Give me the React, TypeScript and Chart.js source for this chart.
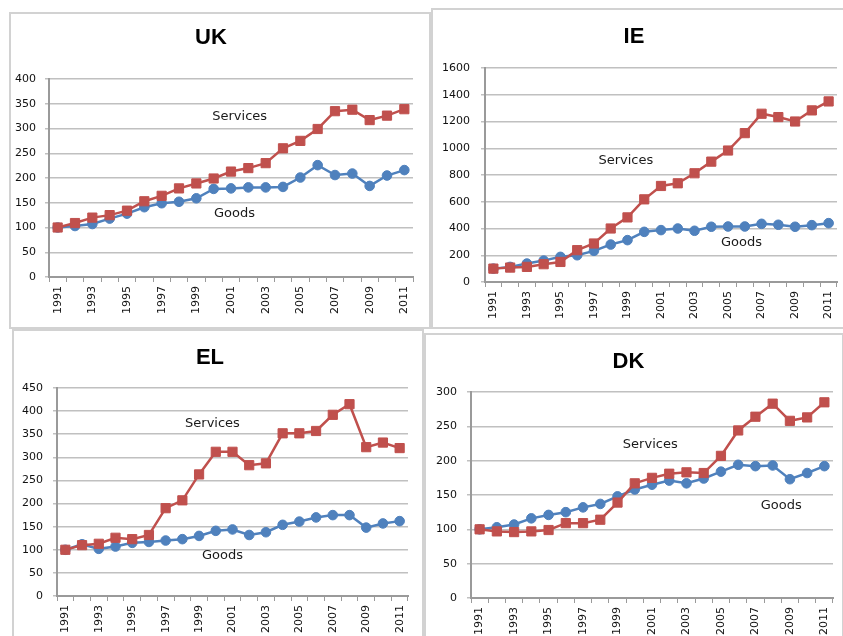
import React, { useEffect, useRef } from 'react';
import { Chart, registerables } from 'chart.js';

Chart.register(...registerables);

const years = ['1991', '1992', '1993', '1994', '1995', '1996', '1997', '1998', '1999', '2000', '2001', '2002', '2003', '2004', '2005', '2006', '2007', '2008', '2009', '2010', '2011'];

const ukServices = [100, 109, 120, 125, 134, 153, 164, 179, 189, 199, 213, 220, 230, 260, 275, 299, 335, 338, 317, 326, 339];
const ukGoods = [100, 103, 107, 118, 128, 141, 149, 152, 159, 178, 179, 181, 181, 182, 201, 226, 206, 209, 184, 205, 216];

const ieServices = [100, 108, 113, 133, 150, 238, 288, 400, 483, 618, 718, 738, 813, 900, 983, 1113, 1258, 1233, 1200, 1283, 1350];
const ieGoods = [100, 113, 138, 160, 188, 200, 233, 280, 313, 375, 388, 400, 383, 413, 415, 415, 435, 428, 413, 425, 440];

const elServices = [100, 110, 113, 126, 123, 132, 190, 207, 263, 312, 312, 283, 287, 352, 352, 357, 392, 415, 322, 332, 320];
const elGoods = [100, 112, 102, 107, 115, 117, 120, 123, 130, 141, 144, 132, 138, 154, 161, 170, 175, 175, 148, 157, 162];

const dkServices = [100, 97, 96, 97, 99, 109, 109, 114, 139, 167, 175, 181, 183, 182, 207, 244, 264, 283, 258, 263, 285];
const dkGoods = [100, 103, 107, 116, 121, 125, 132, 137, 148, 158, 165, 171, 167, 174, 184, 194, 192, 193, 173, 182, 192];

const seriesNames = ['Services', 'Goods'];

const RED = '#C0504D';
const BLUE = '#4F81BD';

type Note = { text: string; x: number; y: number };
type Box = { l: number; t: number; w: number; h: number };
type Plot = { l: number; t: number; r: number; b: number };
type PanelCfg = {
  title: string;
  services: number[];
  goods: number[];
  yMax: number;
  yStep: number;
  box: Box;
  plot: Plot;
  titleY: number;
  yPad: number;
  notes: Note[];
};

const panels: PanelCfg[] = [
  {
    title: 'UK', services: ukServices, goods: ukGoods, yMax: 400, yStep: 50,
    box: { l: 9, t: 12, w: 422, h: 317 }, plot: { l: 49, t: 79, r: 413, b: 277 }, titleY: 38, yPad: 9,
    notes: [{ text: 'Services', x: 10.5, y: 323 }, { text: 'Goods', x: 10.2, y: 129 }],
  },
  {
    title: 'IE', services: ieServices, goods: ieGoods, yMax: 1600, yStep: 200,
    box: { l: 431, t: 8, w: 420, h: 321 }, plot: { l: 485, t: 68, r: 837, b: 282 }, titleY: 37, yPad: 11,
    notes: [{ text: 'Services', x: 7.9, y: 905 }, { text: 'Goods', x: 14.8, y: 292 }],
  },
  {
    title: 'EL', services: elServices, goods: elGoods, yMax: 450, yStep: 50,
    box: { l: 12, t: 329, w: 412, h: 320 }, plot: { l: 57, t: 388, r: 408, b: 596 }, titleY: 358, yPad: 10,
    notes: [{ text: 'Services', x: 8.8, y: 374 }, { text: 'Goods', x: 9.4, y: 87 }],
  },
  {
    title: 'DK', services: dkServices, goods: dkGoods, yMax: 300, yStep: 50,
    box: { l: 424, t: 333, w: 420, h: 320 }, plot: { l: 471, t: 392, r: 833, b: 598 }, titleY: 362, yPad: 10,
    notes: [{ text: 'Services', x: 9.9, y: 224 }, { text: 'Goods', x: 17.5, y: 135 }],
  },
];

const notesPlugin = {
  id: 'notes',
  afterDatasetsDraw(chart: any, _args: any, opts: any) {
    const items: Note[] = (opts && opts.items) || [];
    const { ctx } = chart;
    const xs = chart.scales.x;
    const ys = chart.scales.y;
    ctx.save();
    ctx.font = '13px "DejaVu Sans"';
    ctx.fillStyle = '#1a1a1a';
    ctx.textAlign = 'center';
    ctx.textBaseline = 'middle';
    for (const it of items) {
      ctx.fillText(it.text, xs.getPixelForValue(it.x), ys.getPixelForValue(it.y));
    }
    ctx.restore();
  },
};

const TITLE_SIZE = 22;
const TITLE_LH = TITLE_SIZE * 1.2;

function Panel({ cfg }: { cfg: PanelCfg }) {
  const ref = useRef<HTMLCanvasElement | null>(null);
  useEffect(() => {
    if (!ref.current) return;
    const { box, plot } = cfg;
    const yWidth = plot.l - box.l;
    const padRight = box.l + box.w - plot.r;
    const xHeight = box.t + box.h - plot.b;
    const titleCenter = cfg.titleY - box.t;
    const tPadTop = titleCenter - TITLE_LH / 2;
    const tPadBottom = plot.t - box.t - tPadTop - TITLE_LH;

    const chart = new Chart(ref.current, {
      type: 'line',
      data: {
        labels: years,
        datasets: [
          {
            label: seriesNames[0],
            data: cfg.services,
            borderColor: RED,
            backgroundColor: RED,
            borderWidth: 2.5,
            pointStyle: 'rect',
            pointRadius: 6.5,
            pointBorderWidth: 1,
            pointBorderColor: RED,
            pointBackgroundColor: RED,
            tension: 0,
          },
          {
            label: seriesNames[1],
            data: cfg.goods,
            borderColor: BLUE,
            backgroundColor: BLUE,
            borderWidth: 2.5,
            pointStyle: 'circle',
            pointRadius: 4.8,
            pointBorderWidth: 1,
            pointBorderColor: BLUE,
            pointBackgroundColor: BLUE,
            tension: 0,
          },
        ],
      },
      options: {
        animation: false,
        responsive: false,
        maintainAspectRatio: false,
        devicePixelRatio: 1,
        layout: { padding: { left: 0, right: padRight, top: 0, bottom: 0 } },
        plugins: {
          legend: { display: false },
          tooltip: { enabled: false },
          title: {
            display: true,
            text: cfg.title,
            color: '#000',
            font: { family: '"Liberation Sans", Arial, sans-serif', size: TITLE_SIZE, weight: 'bold', lineHeight: 1.2 },
            padding: { top: tPadTop, bottom: tPadBottom },
          },
          notes: { items: cfg.notes },
        } as any,
        scales: {
          x: {
            type: 'category',
            offset: true,
            afterFit: (s: any) => { s.height = xHeight; },
            grid: {
              display: true,
              offset: true,
              drawOnChartArea: false,
              drawTicks: true,
              tickLength: 5,
              color: '#9a9a9a',
              lineWidth: 1,
            },
            border: { display: true, color: '#9a9a9a', width: 2 },
            ticks: {
              autoSkip: false,
              minRotation: 90,
              maxRotation: 90,
              padding: 4,
              color: '#111',
              font: { family: '"DejaVu Sans"', size: 11 },
              callback: (_v: any, i: number) => (i % 2 === 0 ? years[i] : ''),
            },
          },
          y: {
            type: 'linear',
            min: 0,
            max: cfg.yMax,
            afterFit: (s: any) => { s.width = yWidth; },
            grid: {
              color: '#c0c0c0',
              lineWidth: 1.5,
              drawTicks: true,
              tickLength: 4,
            },
            border: { display: true, color: '#9a9a9a', width: 2 },
            ticks: {
              stepSize: cfg.yStep,
              padding: cfg.yPad,
              color: '#111',
              font: { family: '"DejaVu Sans"', size: 11 },
              callback: (v: any) => String(v),
            },
          },
        },
      },
      plugins: [notesPlugin as any],
    });
    return () => chart.destroy();
  }, [cfg]);

  const { box } = cfg;
  return (
    <div style={{ position: 'absolute', left: box.l, top: box.t, width: box.w, height: box.h, background: '#fff' }}>
      <canvas ref={ref} width={box.w} height={box.h} style={{ position: 'absolute', left: 0, top: 0, width: box.w, height: box.h }} />
      <div style={{ position: 'absolute', left: 0, top: 0, width: box.w, height: box.h, boxSizing: 'border-box', border: '2px solid #d2d2d2', pointerEvents: 'none' }} />
    </div>
  );
}

export default function App() {
  return (
    <div style={{ position: 'fixed', left: 0, top: 0, width: 843, height: 636, overflow: 'hidden', background: '#fff' }}>
      {panels.map((p) => (
        <Panel key={p.title} cfg={p} />
      ))}
    </div>
  );
}
